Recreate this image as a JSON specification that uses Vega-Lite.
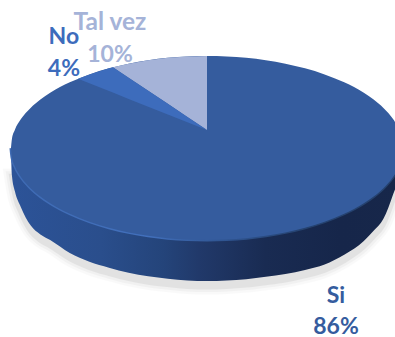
{"$schema":"https://vega.github.io/schema/vega-lite/v6.json","width":395,"height":337,"padding":0,"autosize":{"type":"none"},"background":"white","view":{"stroke":null},
"datasets":{
"outline":[
{"u":-1,"top":0,"under":0,"wall":-0.05,"shadow":-0.3},
{"u":-0.995,"top":0.1,"under":-0.1,"wall":-0.3,"shadow":-0.37},
{"u":-0.98,"top":0.199,"under":-0.199,"wall":-0.47,"shadow":-0.54},
{"u":-0.95,"top":0.312,"under":-0.312,"wall":-0.64,"shadow":-0.71},
{"u":-0.9,"top":0.436,"under":-0.436,"wall":-0.84,"shadow":-0.91},
{"u":-0.85,"top":0.527,"under":-0.527,"wall":-0.94,"shadow":-1.01},
{"u":-0.8,"top":0.6,"under":-0.6,"wall":-1.0,"shadow":-1.07},
{"u":-0.7,"top":0.714,"under":-0.714,"wall":-1.14,"shadow":-1.21},
{"u":-0.6,"top":0.8,"under":-0.8,"wall":-1.235,"shadow":-1.305},
{"u":-0.5,"top":0.866,"under":-0.866,"wall":-1.3,"shadow":-1.37},
{"u":-0.4,"top":0.917,"under":-0.917,"wall":-1.355,"shadow":-1.425},
{"u":-0.3,"top":0.954,"under":-0.954,"wall":-1.395,"shadow":-1.465},
{"u":-0.2,"top":0.98,"under":-0.98,"wall":-1.42,"shadow":-1.49},
{"u":-0.1,"top":0.995,"under":-0.995,"wall":-1.44,"shadow":-1.51},
{"u":0,"top":1,"under":-1,"wall":-1.446,"shadow":-1.516},
{"u":0.1,"top":0.995,"under":-0.995,"wall":-1.44,"shadow":-1.51},
{"u":0.2,"top":0.98,"under":-0.98,"wall":-1.425,"shadow":-1.495},
{"u":0.3,"top":0.954,"under":-0.954,"wall":-1.4,"shadow":-1.47},
{"u":0.4,"top":0.917,"under":-0.917,"wall":-1.37,"shadow":-1.44},
{"u":0.5,"top":0.866,"under":-0.866,"wall":-1.325,"shadow":-1.395},
{"u":0.6,"top":0.8,"under":-0.8,"wall":-1.265,"shadow":-1.335},
{"u":0.7,"top":0.714,"under":-0.714,"wall":-1.16,"shadow":-1.23},
{"u":0.8,"top":0.6,"under":-0.6,"wall":-1.01,"shadow":-1.08},
{"u":0.85,"top":0.527,"under":-0.527,"wall":-0.9,"shadow":-0.97},
{"u":0.9,"top":0.436,"under":-0.436,"wall":-0.77,"shadow":-0.84},
{"u":0.95,"top":0.312,"under":-0.312,"wall":-0.5,"shadow":-0.57},
{"u":0.98,"top":0.199,"under":-0.199,"wall":-0.3,"shadow":-0.37},
{"u":0.995,"top":0.1,"under":-0.1,"wall":-0.1,"shadow":-0.3},
{"u":1,"top":0,"under":0,"wall":0,"shadow":-0.3}
],
"talvez":[
{"u":-0.48,"y":0.877,"y2":0.877},{"u":-0.4,"y":0.917,"y2":0.764},{"u":-0.3,"y":0.954,"y2":0.622},{"u":-0.2,"y":0.98,"y2":0.48},{"u":-0.1,"y":0.995,"y2":0.338},{"u":0,"y":1,"y2":0.196}
],
"no":[
{"u":-0.658,"y":0.753,"y2":0.753},{"u":-0.6,"y":0.8,"y2":0.704},{"u":-0.5,"y":0.866,"y2":0.619},{"u":-0.48,"y":0.877,"y2":0.603},{"u":-0.4,"y":0.764,"y2":0.534},{"u":-0.3,"y":0.622,"y2":0.45},{"u":-0.2,"y":0.48,"y2":0.365},{"u":-0.1,"y":0.338,"y2":0.281},{"u":0,"y":0.196,"y2":0.196}
],
"labels":[
{"text":"Si","u":0.658,"v":-1.609,"group":"Si"},
{"text":"86%","u":0.658,"v":-1.95,"group":"Si"},
{"text":"Tal vez","u":-0.495,"v":1.359,"group":"Tal vez"},
{"text":"10%","u":-0.495,"v":1.011,"group":"Tal vez"},
{"text":"No","u":-0.73,"v":1.207,"group":"No"},
{"text":"4%","u":-0.73,"v":0.859,"group":"No"}
]},
"encoding":{
"x":{"field":"u","type":"quantitative","axis":null,"scale":{"domain":[-1.056,0.959],"nice":false,"zero":false}}
},
"layer":[
{"data":{"name":"outline"},"mark":{"type":"area","fill":"#a0a0a0","stroke":"#a0a0a0","strokeWidth":14,"opacity":0.05,"interpolate":"monotone"},
"encoding":{"y":{"field":"shadow","type":"quantitative","axis":null,"scale":{"domain":[-2.054,1.609],"nice":false,"zero":false}},"y2":{"datum":-0.3}}},
{"data":{"name":"outline"},"mark":{"type":"area","fill":"#909090","stroke":"#909090","strokeWidth":9,"opacity":0.07,"interpolate":"monotone"},
"encoding":{"y":{"field":"shadow","type":"quantitative"},"y2":{"datum":-0.3}}},
{"data":{"name":"outline"},"mark":{"type":"area","fill":"#808080","stroke":"#808080","strokeWidth":4,"opacity":0.12,"interpolate":"monotone"},
"encoding":{"y":{"field":"shadow","type":"quantitative"},"y2":{"datum":-0.3}}},
{"data":{"name":"outline"},"mark":{"type":"area","interpolate":"monotone","color":{"gradient":"linear","x1":0,"x2":1,"y1":0,"y2":0,"stops":[{"offset":0,"color":"#2c5398"},{"offset":0.23,"color":"#2a4e8c"},{"offset":0.39,"color":"#24447a"},{"offset":0.48,"color":"#21396a"},{"offset":0.65,"color":"#192b52"},{"offset":0.84,"color":"#16264a"},{"offset":1,"color":"#17274a"}]}},
"encoding":{"y":{"field":"wall","type":"quantitative"},"y2":{"datum":0}}},
{"data":{"name":"outline"},"mark":{"type":"line","interpolate":"monotone","strokeWidth":3,"stroke":{"gradient":"linear","x1":0,"x2":1,"y1":0,"y2":0,"stops":[{"offset":0,"color":"#3f6bb4"},{"offset":0.35,"color":"#4270bc"},{"offset":0.55,"color":"#2f5490"},{"offset":0.75,"color":"#25426f"},{"offset":1,"color":"#25426f"}]}},
"encoding":{"y":{"field":"under","type":"quantitative"}}},
{"data":{"name":"outline"},"mark":{"type":"area","color":"#355c9e","interpolate":"monotone"},
"encoding":{"y":{"field":"top","type":"quantitative"},"y2":{"field":"under"}}},
{"data":{"name":"talvez"},"mark":{"type":"area","color":"#a5b3d8"},
"encoding":{"y":{"field":"y","type":"quantitative"},"y2":{"field":"y2"}}},
{"data":{"name":"no"},"mark":{"type":"area","color":"#3d6cbc"},
"encoding":{"y":{"field":"y","type":"quantitative"},"y2":{"field":"y2"}}},
{"data":{"name":"labels"},"mark":{"type":"text","font":"Lato","fontWeight":"bold","baseline":"middle","align":"center"},
"encoding":{"y":{"field":"v","type":"quantitative"},"text":{"field":"text"},"size":{"condition":{"test":"datum.text==='Tal vez'","value":24.5},"value":23},"color":{"field":"group","type":"nominal","legend":null,"scale":{"domain":["Si","No","Tal vez"],"range":["#355c9e","#3d6cbc","#a5b3d8"]}}}}
]}
